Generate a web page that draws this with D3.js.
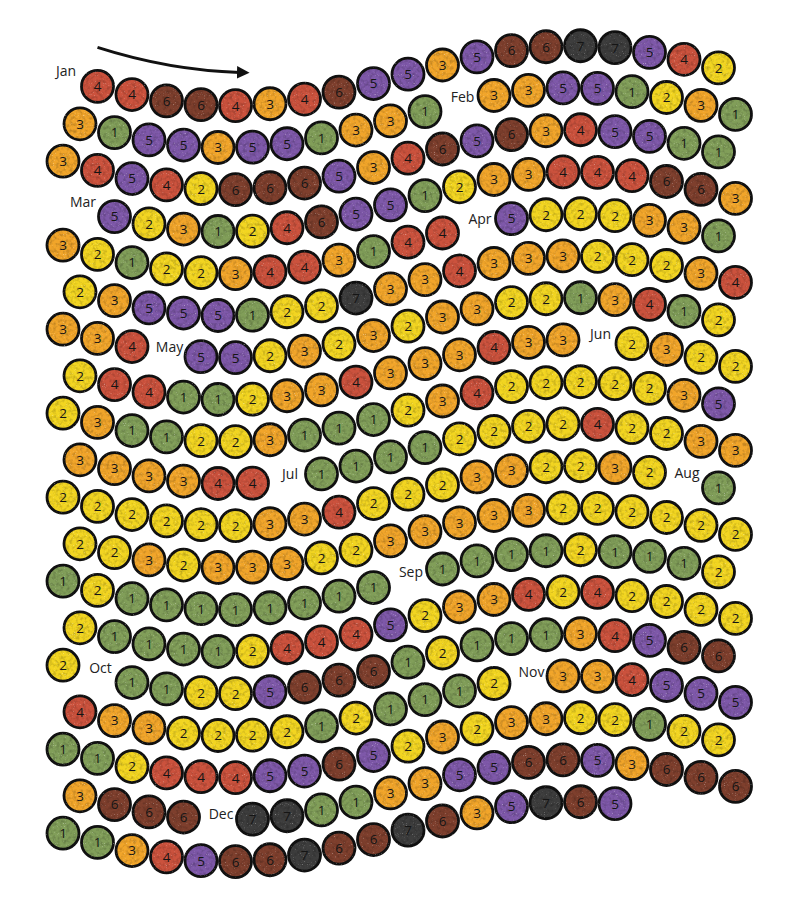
<!DOCTYPE html>
<html><head><meta charset="utf-8">
<script src="https://cdn.jsdelivr.net/npm/d3@7"></script>
<style>html,body{margin:0;padding:0;background:#fff}</style>
</head><body>
<svg id="chart" width="800" height="912"></svg>
<script>
// ---------- DATA ----------
const months = ["Jan","Feb","Mar","Apr","May","Jun","Jul","Aug","Sep","Oct","Nov","Dec"];
const jan = [4,4,6,6,4,3,4,6,5,5,3,5,6,6,7,7,5,4,2, 3,1,5,5,3,5,5,1,3,3,1];
const feb = [3,3,5,5,1,2,3,1, 3,4,5,4,2,6,6,6,5,3,4,6,5,6,3,4,5,5,1,1];
const mar = [5,2,3,1,2,4,6,5,5,1,2,3,3,4,4,4,6,6,3, 3,2,1,2,2,3,4,4,3,1,4,4];
const apr = [5,2,2,2,3,3,1, 2,3,5,5,5,1,2,2,7,3,3,4,3,3,3,2,2,2,3,4, 3,3,4];
const may = [5,5,2,3,2,3,2,3,3,2,2,1,3,4,1,2, 2,4,4,1,1,2,3,3,4,3,3,3,4,3,3];
const jun = [2,3,2,2, 2,3,1,1,2,2,3,1,1,1,2,3,4,2,2,2,2,2,3,5, 3,3,3,3,4,4];
const jul = [1,1,1,1,2,2,2,2,4,2,2,3,3, 2,2,2,2,2,2,3,3,4,2,2,2,3,3,2,2,3,2];
const aug = [1, 2,2,3,2,3,3,3,2,2,3,3,3,3,3,2,2,2,2,2,2, 1,2,1,1,1,1,1,1,1,1];
const sep = [1,1,1,1,2,1,1,1,2, 2,1,1,1,1,2,4,4,4,5,2,3,3,4,2,4,2,2,2,2, 2];
const oct = [1,1,2,2,5,6,6,6,1,2,1,1,1,3,4,5,6,6, 4,3,3,2,2,2,2,1,2,1,1,1,2];
const nov = [3,3,4,5,5,5, 1,1,2,4,4,4,5,5,6,5,2,3,2,3,3,2,2,1,2,2, 3,6,6,6];
const dec = [7,7,1,1,3,3,5,5,6,6,5,3,6,6,6, 1,1,3,4,5,6,6,7,6,6,7,6,3,5,7,6,5];
const monthValues = [jan,feb,mar,apr,may,jun,jul,aug,sep,oct,nov,dec];
const levels = [1,2,3,4,5,6,7];
const levelColors = ["#819e59","#f2d521","#f1a52a","#cb523d","#7e58a9","#7e3f2d","#3d3d3d"];

// ---------- LAYOUT ----------
const W = 800, H = 912;
const perRow = 20;
const svg = d3.select("#chart");
const color = d3.scaleOrdinal(levels, levelColors);

const items = [];
months.forEach((m, i) => {
  items.push({type: "label", text: m});
  monthValues[i].forEach(v => items.push({type: "day", value: v}));
});
const nRows = Math.ceil(items.length / perRow);

const xSlot = d3.scaleLinear().domain([0, perRow - 1]).range([63, 718.5]);
const rowShift = 17;
const yRow = d3.scaleLinear().domain([0, nRows - 1]).range([75.7, 831.7]);
const waveAmp = 30, wavePeriod = 690, wavePhase = 57.5;
const wave = x => waveAmp * Math.sin(2 * Math.PI * (x - wavePhase) / wavePeriod);

items.forEach((d, i) => {
  d.row = Math.floor(i / perRow);
  d.slot = i % perRow;
  d.x = xSlot(d.slot) + (d.row % 2 === 1 ? rowShift : 0);
  d.y = yRow(d.row) + wave(d.x);
});
const days = items.filter(d => d.type === "day");
const labels = items.filter(d => d.type === "label");

// subtle speckle texture filter (region padded so the stroke is not clipped)
const defs = svg.append("defs");
const f = defs.append("filter").attr("id", "speckle")
  .attr("x", -0.2).attr("y", -0.2).attr("width", 1.4).attr("height", 1.4)
  .attr("filterUnits", "objectBoundingBox").attr("color-interpolation-filters", "sRGB");
f.append("feTurbulence").attr("type", "fractalNoise").attr("baseFrequency", 0.3)
  .attr("numOctaves", 2).attr("seed", 7).attr("result", "noise");
f.append("feColorMatrix").attr("in", "noise").attr("type", "matrix")
  .attr("values", "0 0 0 0 0  0 0 0 0 0  0 0 0 0 0  0.5 0 0 0 -0.22").attr("result", "dark");
f.append("feComposite").attr("in", "dark").attr("in2", "SourceGraphic").attr("operator", "in").attr("result", "darkIn");
f.append("feTurbulence").attr("type", "fractalNoise").attr("baseFrequency", 0.9)
  .attr("numOctaves", 1).attr("seed", 3).attr("result", "noise2");
f.append("feColorMatrix").attr("in", "noise2").attr("type", "matrix")
  .attr("values", "0 0 0 0 1  0 0 0 0 1  0 0 0 0 1  0 2.0 0 0 -1.3").attr("result", "light");
f.append("feComposite").attr("in", "light").attr("in2", "SourceGraphic").attr("operator", "in").attr("result", "lightIn");
const fm = f.append("feMerge");
fm.append("feMergeNode").attr("in", "SourceGraphic");
fm.append("feMergeNode").attr("in", "darkIn");
fm.append("feMergeNode").attr("in", "lightIn");

svg.append("rect").attr("width", W).attr("height", H).attr("fill", "#fff");

// arrow annotation relative to first day
const first = days[0];
const a0 = [first.x, first.y - 39], a2 = [first.x + 142, first.y - 14], ac = [first.x + 72, first.y - 16];
defs.append("marker").attr("id", "arrowhead").attr("viewBox", "0 0 10 10")
  .attr("refX", 2).attr("refY", 5).attr("markerWidth", 4.2).attr("markerHeight", 4.2)
  .attr("orient", "auto").attr("markerUnits", "strokeWidth")
  .append("path").attr("d", "M0,0 L10,5 L0,10 Z").attr("fill", "#111");
const ap = d3.path();
ap.moveTo(a0[0], a0[1]);
ap.quadraticCurveTo(ac[0], ac[1], a2[0], a2[1]);
svg.append("path").attr("d", ap.toString()).attr("fill", "none")
  .attr("stroke", "#111").attr("stroke-width", 3).attr("marker-end", "url(#arrowhead)");

const gC = svg.append("g");
gC.selectAll("circle").data(days).join("circle")
  .attr("cx", d => d.x).attr("cy", d => d.y).attr("r", 16)
  .attr("fill", d => color(d.value))
  .attr("filter", "url(#speckle)")
  .attr("stroke", "#111").attr("stroke-width", 2.8);

svg.append("g").selectAll("text").data(days).join("text")
  .attr("x", d => d.x).attr("y", d => d.y).attr("dy", "0.36em")
  .attr("text-anchor", "middle")
  .attr("font-family", "'Open Sans', sans-serif").attr("font-size", 13.5)
  .attr("fill", "#151515")
  .text(d => d.value);

svg.append("g").selectAll("text").data(labels).join("text")
  .attr("x", d => d.x + 3).attr("y", d => d.y - 1)
  .attr("text-anchor", "middle")
  .attr("font-family", "'Open Sans', sans-serif").attr("font-size", 14)
  .attr("fill", "#222")
  .text(d => d.text);
</script>
</body></html>
